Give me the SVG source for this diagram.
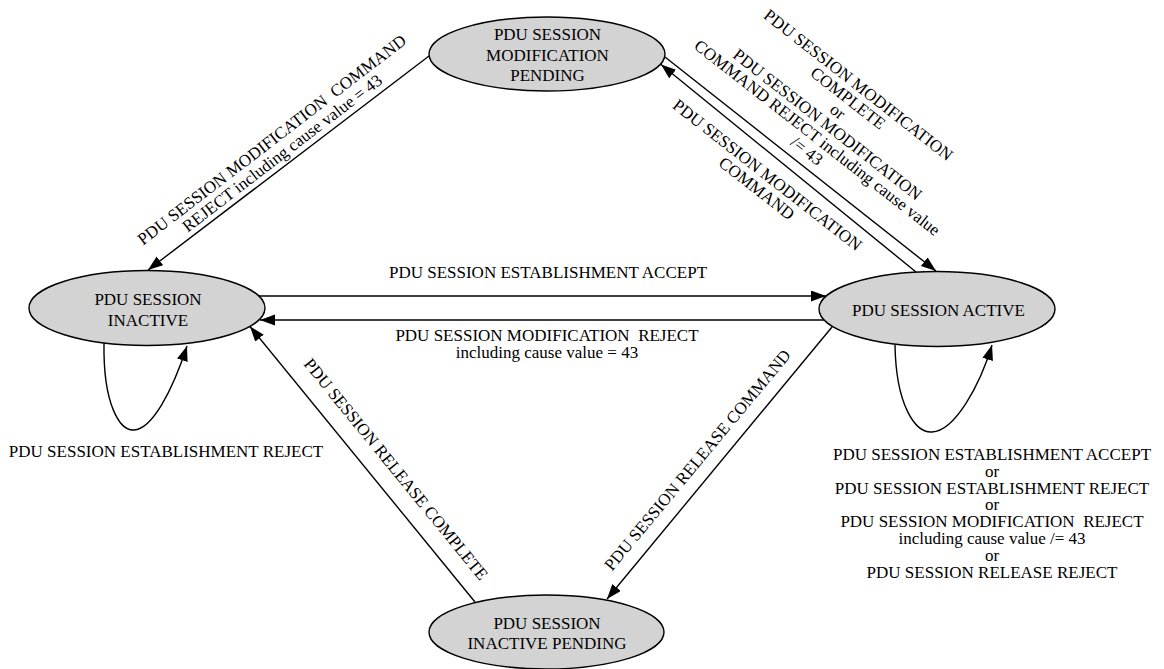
<svg xmlns="http://www.w3.org/2000/svg" width="1164" height="669" viewBox="0 0 1164 669">
<style>
text{font-family:"Liberation Serif","Times New Roman",serif;font-size:17px;fill:#000;text-anchor:middle}
.node ellipse{fill:#d3d3d3;stroke:#000;stroke-width:1.4}
.edge{fill:none;stroke:#000;stroke-width:1.4;marker-end:url(#arr)}
</style>
<defs>
<marker id="arr" markerUnits="userSpaceOnUse" markerWidth="16" markerHeight="12" refX="15" refY="5.5" orient="auto">
<path d="M0,0 L15,5.5 L0,11 z" fill="#000"/>
</marker>
</defs>
<rect width="1164" height="669" fill="#fff"/>
<g id="connectors">
<path class="edge" d="M429,56 L148,270"/>
<path class="edge" d="M665,57 L936,271"/>
<path class="edge" d="M916,272 L661,64.5"/>
<path class="edge" d="M259,296 L826,296"/>
<path class="edge" d="M825,320 L260,320"/>
<path class="edge" d="M832,327 L607,599"/>
<path class="edge" d="M475,602 L250,326.5"/>
<path class="edge" d="M104,343 C103,405 120,431 134,430 C152,429 172,392 187,346"/>
<path class="edge" d="M895,345 C896,405 915,433 932,432 C955,431 980,385 992,345"/>
</g>
<g id="labels">
<g transform="translate(277,146.5) rotate(-37.5)">
<text y="-2.9" xml:space="preserve">PDU SESSION MODIFICATION  COMMAND</text>
<text y="14.1">REJECT including cause value = 43</text>
</g>
<g transform="translate(832.6,117.9) rotate(38)">
<text y="-36.1">PDU SESSION MODIFICATION</text>
<text y="-19.4">COMPLETE</text>
<text y="-2.7">or</text>
<text y="14">PDU SESSION MODIFICATION</text>
<text y="30.7">COMMAND REJECT including cause value</text>
<text y="47.4">/= 43</text>
</g>
<g transform="translate(762,181.7) rotate(38)">
<text y="-2.9">PDU SESSION MODIFICATION</text>
<text y="14.1">COMMAND</text>
</g>
<text x="548" y="278">PDU SESSION ESTABLISHMENT ACCEPT</text>
<text x="547" y="341" xml:space="preserve">PDU SESSION MODIFICATION  REJECT</text>
<text x="547" y="358">including cause value = 43</text>
<g transform="translate(697.5,460) rotate(-50.3)">
<text y="5.6">PDU SESSION RELEASE COMMAND</text>
</g>
<g transform="translate(395.8,469.2) rotate(50.8)">
<text y="5.6">PDU SESSION RELEASE COMPLETE</text>
</g>
<text x="166" y="456.5">PDU SESSION ESTABLISHMENT REJECT</text>
<g>
<text x="992" y="460">PDU SESSION ESTABLISHMENT ACCEPT</text>
<text x="992" y="476.8">or</text>
<text x="992" y="493.6">PDU SESSION ESTABLISHMENT REJECT</text>
<text x="992" y="510.4">or</text>
<text x="992" y="527.2" xml:space="preserve">PDU SESSION MODIFICATION  REJECT</text>
<text x="992" y="544">including cause value /= 43</text>
<text x="992" y="560.8">or</text>
<text x="992" y="577.6">PDU SESSION RELEASE REJECT</text>
</g>
</g>
<g id="node-mod-pending" class="node">
<ellipse cx="547" cy="54" rx="118" ry="37"/>
<text x="547.5" y="40">PDU SESSION</text>
<text x="547.5" y="60.5">MODIFICATION</text>
<text x="547.5" y="80.5">PENDING</text>
</g>
<g id="node-inactive" class="node">
<ellipse cx="147" cy="308" rx="118" ry="37.5"/>
<text x="148" y="305">PDU SESSION</text>
<text x="148" y="325.5">INACTIVE</text>
</g>
<g id="node-active" class="node">
<ellipse cx="937" cy="309" rx="118" ry="37.5"/>
<text x="938.5" y="315.5">PDU SESSION ACTIVE</text>
</g>
<g id="node-inactive-pending" class="node">
<ellipse cx="546.5" cy="632" rx="117.5" ry="37"/>
<text x="547" y="629.3">PDU SESSION</text>
<text x="547" y="649.3">INACTIVE PENDING</text>
</g>
</svg>
